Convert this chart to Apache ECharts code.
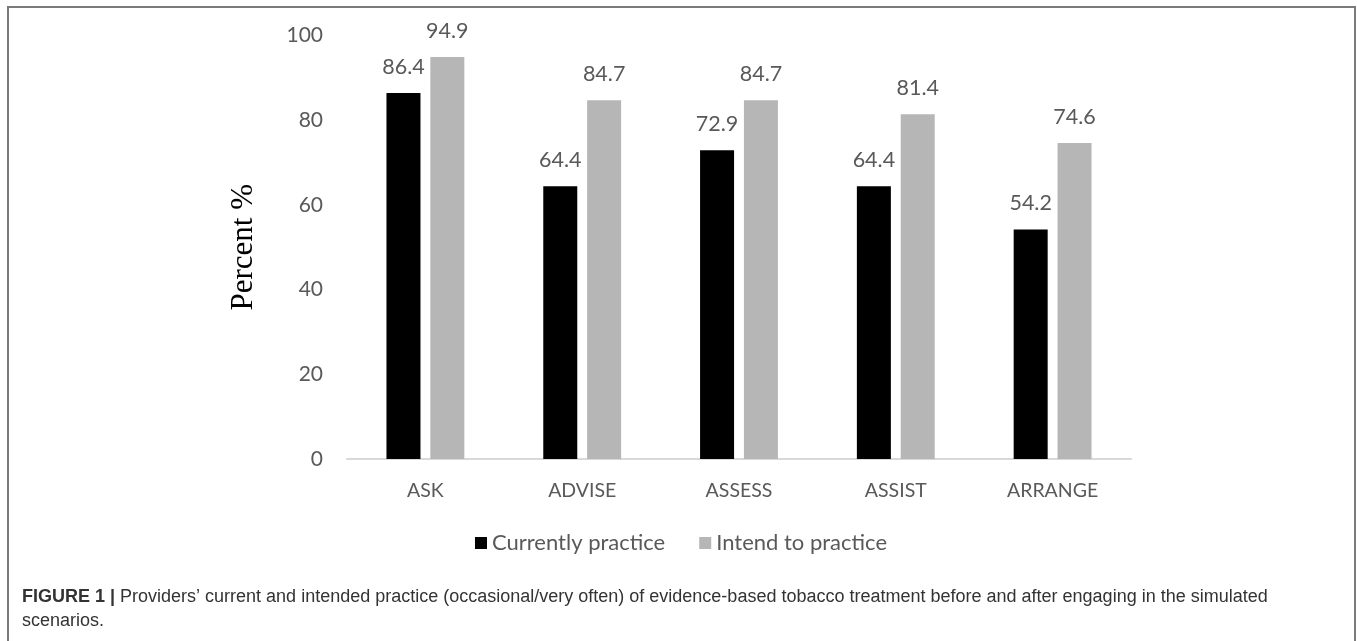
<!DOCTYPE html>
<html>
<head>
<meta charset="utf-8">
<script src="https://cdn.jsdelivr.net/npm/echarts@6/dist/echarts.min.js"></script>
<style>
html,body{margin:0;padding:0;background:#fff;}
#chart{width:1357px;height:641px;}
</style>
</head>
<body>
<div id="chart"></div>
<script>
const categories = ['ASK', 'ADVISE', 'ASSESS', 'ASSIST', 'ARRANGE'];
const currentlyPractice = [86.4, 64.4, 72.9, 64.4, 54.2];
const intendToPractice = [94.9, 84.7, 84.7, 81.4, 74.6];
const yTicks = [0, 20, 40, 60, 80, 100];
const seriesNames = ['Currently practice', 'Intend to practice'];
const yTitle = 'Percent %';
const captionBold = 'FIGURE 1 |';
const captionLine1 = 'Providers\u2019 current and intended practice (occasional/very often) of evidence-based tobacco treatment before and after engaging in the simulated';
const captionLine2 = 'scenarios.';

const chart = echarts.init(document.getElementById('chart'));
const txt = '#595959';
const labelFont = 'Lato';
chart.setOption({
  animation: false,
  backgroundColor: '#fff',
  grid: { left: 347, right: 226, top: 35.5, bottom: 182, containLabel: false },
  legend: {
    data: seriesNames,
    left: 475, top: 532, padding: 0,
    itemWidth: 12, itemHeight: 12, itemGap: 34,
    icon: 'rect',
    textStyle: { color: txt, fontFamily: labelFont, fontSize: 22 }
  },
  xAxis: {
    type: 'category',
    data: categories,
    axisLine: { lineStyle: { color: '#d9d9d9', width: 2 } },
    axisTick: { show: false },
    axisLabel: { color: txt, fontFamily: labelFont, fontSize: 19.5, margin: 22 }
  },
  yAxis: {
    type: 'value',
    min: yTicks[0], max: yTicks[yTicks.length - 1], interval: 20,
    name: yTitle,
    nameLocation: 'middle',
    nameGap: 88,
    nameRotate: 90,
    nameTextStyle: { color: '#000', fontFamily: 'Liberation Serif', fontSize: 31 },
    axisLine: { show: false },
    axisTick: { show: false },
    splitLine: { show: false },
    axisLabel: { color: txt, fontFamily: labelFont, fontSize: 21, margin: 24 }
  },
  series: [
    {
      name: seriesNames[0], type: 'bar', data: currentlyPractice,
      barWidth: 34, barGap: '29%',
      itemStyle: { color: '#000000' },
      label: { show: true, position: 'top', distance: 15, color: txt, fontFamily: labelFont, fontSize: 21.5 }
    },
    {
      name: seriesNames[1], type: 'bar', data: intendToPractice,
      barWidth: 34,
      itemStyle: { color: '#b6b6b6' },
      label: { show: true, position: 'top', distance: 15, color: txt, fontFamily: labelFont, fontSize: 21.5 }
    }
  ],
  graphic: [
    {
      type: 'polyline',
      shape: { points: [[8, 641], [8, 7], [1355, 7], [1355, 641]] },
      style: { stroke: '#7a7a7a', lineWidth: 2, fill: null }
    },
    {
      type: 'text', left: 22, top: 588,
      style: {
        text: '{b|' + captionBold + '} ' + captionLine1,
        rich: {
          b: { fontWeight: 'bold', fontFamily: 'Liberation Sans', fontSize: 18, fill: '#333' }
        },
        fontFamily: 'Liberation Sans', fontSize: 18, fill: '#333'
      }
    },
    {
      type: 'text', left: 22, top: 612,
      style: { text: captionLine2, fontFamily: 'Liberation Sans', fontSize: 18, fill: '#333' }
    }
  ]
});
</script>
</body>
</html>
